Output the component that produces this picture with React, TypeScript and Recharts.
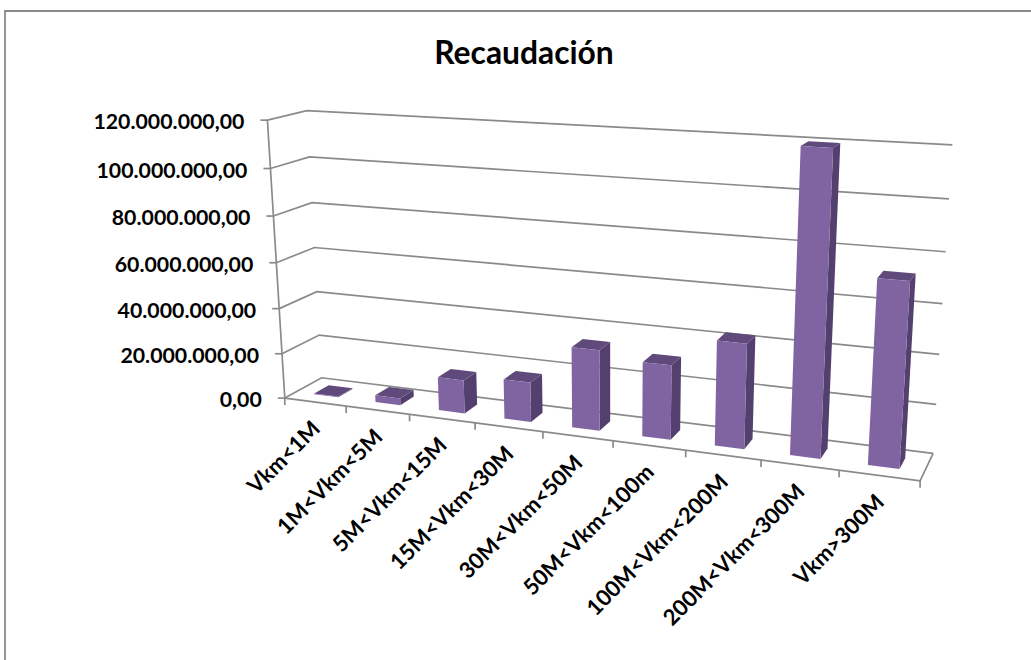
import React from "react";
import { BarChart, Bar, XAxis, YAxis, CartesianGrid, Customized } from "recharts";

const categories = ["Vkm<1M", "1M<Vkm<5M", "5M<Vkm<15M", "15M<Vkm<30M", "30M<Vkm<50M", "50M<Vkm<100m", "100M<Vkm<200M", "200M<Vkm<300M", "Vkm>300M"];
const recaudacion = [300000, 3000000, 14500000, 17000000, 34000000, 31000000, 43000000, 120000000, 73000000];
const yTicks = [0, 20000000, 40000000, 60000000, 80000000, 100000000, 120000000];
const title = "Recaudación";
const chartData = categories.map((name, i) => ({ name, value: recaudacion[i] }));

const W = 1031, H = 660;
const M = { top: 120, right: 110, bottom: 262, left: 285 };
const PW = W - M.left - M.right, PH = H - M.top - M.bottom;
const FONT = "Lato, Carlito, sans-serif";
const GRID = "#8A8A8A";
const LINE = 1.7;

// Calibration of the 3D box: [u, v, w, screenX, screenY]
const calib: number[][] = [];
const fl = [[285, 398.3], [282.2, 354], [279.3, 308.3], [276.4, 262.7], [273.4, 216], [270.3, 168.3], [267.3, 120]];
const bl = [[321.7, 377.7], [319, 335], [316.7, 291.7], [314.3, 247.3], [311.7, 202.7], [309.3, 157], [307.3, 110.7]];
const br = [[933.3, 452.7], [936.3, 404.3], [939.3, 354.7], [942.3, 303.7], [945.7, 252], [949, 199], [952.3, 145]];
fl.forEach((p, k) => calib.push([0, k / 6, 0, p[0], p[1]]));
bl.forEach((p, k) => calib.push([0, k / 6, 1, p[0], p[1]]));
br.forEach((p, k) => calib.push([1, k / 6, 1, p[0], p[1]]));
[285, 346, 409.7, 475, 542.7, 612.7, 685.7, 761, 839, 920.3].forEach((x, i) =>
  calib.push([i / 9, 0, 0, x, 398.3 + ((x - 285) / 635.3) * 82.4])
);

function solveProjection(): number[] {
  const n = 11;
  const A = Array.from({ length: n }, () => new Array(n + 1).fill(0));
  const add = (row: number[], rhs: number) => {
    for (let i = 0; i < n; i++) {
      for (let j = 0; j < n; j++) A[i][j] += row[i] * row[j];
      A[i][n] += row[i] * rhs;
    }
  };
  calib.forEach(([u, v, w, x, y]) => {
    const X = x / 1000, Y = y / 1000;
    add([u, v, w, 1, 0, 0, 0, 0, -X * u, -X * v, -X * w], X);
    add([0, 0, 0, 0, u, v, w, 1, -Y * u, -Y * v, -Y * w], Y);
  });
  for (let c = 0; c < n; c++) {
    let piv = c;
    for (let r = c + 1; r < n; r++) if (Math.abs(A[r][c]) > Math.abs(A[piv][c])) piv = r;
    [A[c], A[piv]] = [A[piv], A[c]];
    for (let r = 0; r < n; r++) {
      if (r === c) continue;
      const f = A[r][c] / A[c][c];
      for (let k = c; k <= n; k++) A[r][k] -= f * A[c][k];
    }
  }
  return A.map((row, i) => row[n] / row[i]);
}
const P = solveProjection();
function project(u: number, v: number, w: number): [number, number] {
  const d = P[8] * u + P[9] * v + P[10] * w + 1;
  return [
    (1000 * (P[0] * u + P[1] * v + P[2] * w + P[3])) / d,
    (1000 * (P[4] * u + P[5] * v + P[6] * w + P[7])) / d,
  ];
}
const uOf = (x: number) => (x - M.left) / PW;
const vOf = (y: number) => (M.top + PH - y) / PH;
const pts = (list: [number, number][]) => list.map((p) => `${p[0].toFixed(2)},${p[1].toFixed(2)}`).join(" ");
const fmt = (n: number) =>
  n.toFixed(2).replace(".", ",").replace(/\B(?=(\d{3})+(?!\d))(?=.*,)/g, ".");

const Bar3D = (props: any) => {
  const { x, y, width } = props;
  const u0 = uOf(x), u1 = uOf(x + width), v = vOf(y);
  const w0 = 0.3, w1 = 0.7;
  const a = project(u0, 0, w0), b = project(u1, 0, w0), c = project(u1, v, w0), d = project(u0, v, w0);
  const e = project(u1, 0, w1), f = project(u1, v, w1), g = project(u0, v, w1);
  return (
    <g>
      <polygon points={pts([b, e, f, c])} fill="#54406F" />
      <polygon points={pts([d, c, f, g])} fill="#604A7B" />
      <polygon points={pts([a, b, c, d])} fill="#8064A2" />
    </g>
  );
};

const YTick = (props: any) => {
  const v = vOf(props.y);
  const [x, y] = project(0, v, 0);
  return (
    <g>
      <line x1={x - 7} y1={y} x2={x} y2={y} stroke={GRID} strokeWidth={LINE} />
      <text x={x - 23} y={y + 1} textAnchor="end" dominantBaseline="central" fontFamily={FONT} fontWeight={700} fontSize={21.3} fill="#000">
        {fmt(props.payload.value)}
      </text>
    </g>
  );
};

const XTick = (props: any) => {
  const i = props.index;
  const [x0, y0] = project(i / 9, 0, 0);
  const [x1, y1] = project((i + 1) / 9, 0, 0);
  const cx = (x0 + x1) / 2 + 6, cy = (y0 + y1) / 2 + 28;
  return (
    <g>
      {i === 0 ? <line x1={x0} y1={y0} x2={x0} y2={y0 + 7} stroke={GRID} strokeWidth={LINE} /> : null}
      <line x1={x1} y1={y1} x2={x1} y2={y1 + 7} stroke={GRID} strokeWidth={LINE} />
      <text x={cx} y={cy} textAnchor="end" transform={`rotate(-45 ${cx} ${cy})`} fontFamily={FONT} fontWeight={700} fontSize={22} fill="#000">
        {props.payload.value}
      </text>
    </g>
  );
};

const GridLine = (props: any) => {
  const v = vOf(props.y1);
  return (
    <polyline
      key={props.key}
      points={pts([project(0, v, 0), project(0, v, 1), project(1, v, 1)])}
      fill="none"
      stroke={GRID}
      strokeWidth={LINE}
    />
  );
};

const Frame = () => {
  const a = project(0, 0, 0), t = project(0, 1, 0), b = project(1, 0, 0), c = project(1, 0, 1);
  return (
    <g>
      <polyline points={`5,${H} 5,11 ${W},11`} fill="none" stroke={GRID} strokeWidth={1.8} />
      <text x={524} y={64} textAnchor="middle" fontFamily={FONT} fontWeight={700} fontSize={31.8} fill="#000">{title}</text>
      <line x1={t[0]} y1={t[1]} x2={a[0]} y2={a[1]} stroke={GRID} strokeWidth={LINE} />
      <polyline points={pts([a, b, c])} fill="none" stroke={GRID} strokeWidth={LINE} />
    </g>
  );
};

export default function App() {
  return (
    <div style={{ position: "absolute", left: 0, top: 0, width: W, height: H, background: "#fff" }}>
      <BarChart width={W} height={H} data={chartData} margin={{ top: M.top, right: M.right, bottom: M.bottom - 60, left: M.left - 60 }} barCategoryGap="30%">
        <CartesianGrid vertical={false} horizontal={GridLine as any} />
        <Customized component={Frame} />
        <XAxis dataKey="name" height={60} interval={0} axisLine={false} tickLine={false} tick={XTick as any} />
        <YAxis width={60} domain={[0, 120000000]} ticks={yTicks} axisLine={false} tickLine={false} tick={YTick as any} />
        <Bar dataKey="value" fill="#8064A2" isAnimationActive={false} shape={Bar3D as any} />
      </BarChart>
    </div>
  );
}
